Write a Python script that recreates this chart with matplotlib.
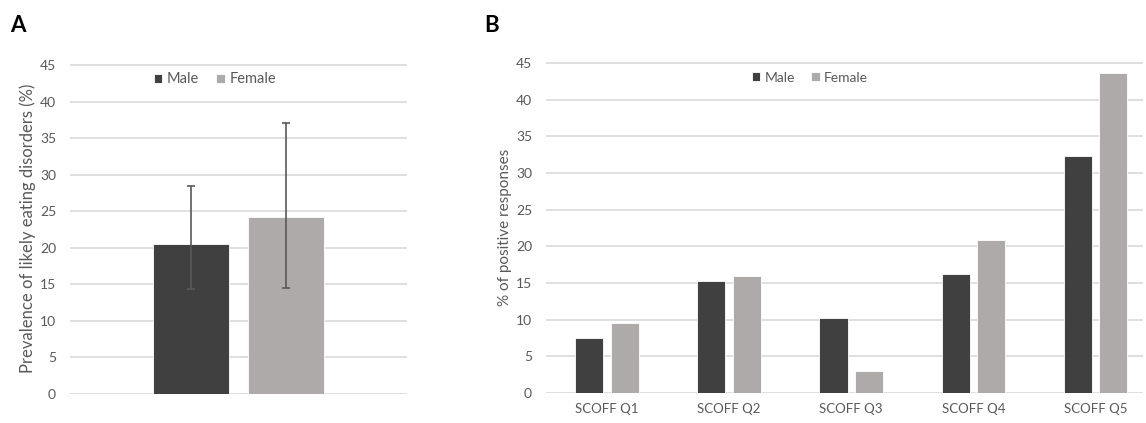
import numpy as np
import matplotlib.pyplot as plt

plt.rcParams['font.family'] = ['Lato', 'DejaVu Sans']

# Panel A data
groups = ['Male', 'Female']
prevalence = [20.5, 24.2]
err_low = [14.3, 14.5]
err_high = [28.5, 37.0]

# Panel B data
questions = ['SCOFF Q1', 'SCOFF Q2', 'SCOFF Q3', 'SCOFF Q4', 'SCOFF Q5']
male_pos = [7.45, 15.25, 10.25, 16.2, 32.3]
female_pos = [9.6, 15.9, 3.05, 20.9, 43.55]

yticks = [0, 5, 10, 15, 20, 25, 30, 35, 40, 45]

c_male = '#404040'
c_female = '#aeaaaa'
c_grid = '#d9d9d9'
c_text = '#595959'

fig = plt.figure(figsize=(11.46, 4.23), dpi=100)

def style(ax):
    for s in ax.spines.values():
        s.set_visible(False)
    ax.set_ylim(0, 45.3)
    ax.set_yticks(yticks)
    ax.yaxis.grid(True, color=c_grid, linewidth=1.2)
    ax.set_axisbelow(True)
    ax.tick_params(axis='both', length=0, labelsize=10, labelcolor=c_text)
    ax.tick_params(axis='y', pad=10)

# ---- Panel A ----
axA = fig.add_axes([70 / 1146, 1 - 394 / 423, 337 / 1146, (394 - 62.8) / 423])
style(axA)
xA = np.array([-0.28, 0.28])
yerr = [np.array(prevalence) - np.array(err_low), np.array(err_high) - np.array(prevalence)]
bars = axA.bar(xA, prevalence, width=0.45, color=[c_male, c_female], edgecolor='white', linewidth=0.6)
axA.errorbar(xA, prevalence, yerr=yerr, fmt='none', ecolor='#595959', elinewidth=1.2,
             capsize=3, capthick=1.2)
axA.set_xlim(-1, 1)
axA.set_xticks([])
axA.set_ylabel('Prevalence of likely eating disorders (%)', fontsize=12, color=c_text, labelpad=3)
axA.legend(bars, groups, loc='center', bbox_to_anchor=(0.43, 0.95), ncol=2, frameon=False,
           fontsize=10.5, labelcolor=c_text, handlelength=0.6, handleheight=0.6,
           handletextpad=0.3, columnspacing=1.2)

# ---- Panel B ----
axB = fig.add_axes([546 / 1146, 1 - 393 / 423, 597 / 1146, (393 - 61) / 423])
style(axB)
axB.set_ylim(0, 45.25)
xB = np.arange(len(questions))
b1 = axB.bar(xB - 0.145, male_pos, width=0.23, color=c_male, edgecolor='white', linewidth=0.6, label='Male')
b2 = axB.bar(xB + 0.145, female_pos, width=0.23, color=c_female, edgecolor='white', linewidth=0.6, label='Female')
axB.set_xlim(-0.5, 4.39)
axB.set_xticks(xB)
axB.set_xticklabels(questions, fontsize=9.5)
axB.tick_params(axis='x', pad=7)
axB.set_ylabel('% of positive responses', fontsize=11, color=c_text, labelpad=3)
axB.legend(loc='center', bbox_to_anchor=(0.442, 0.95), ncol=2, frameon=False,
           fontsize=10, labelcolor=c_text, handlelength=0.6, handleheight=0.6,
           handletextpad=0.3, columnspacing=1.2)

fig.text(10 / 1146, 1 - 25 / 423, 'A', fontsize=16, fontweight='bold', va='center', ha='left', color='black')
fig.text(484 / 1146, 1 - 25 / 423, 'B', fontsize=16, fontweight='bold', va='center', ha='left', color='black')

fig.savefig('out.png', dpi=100)
